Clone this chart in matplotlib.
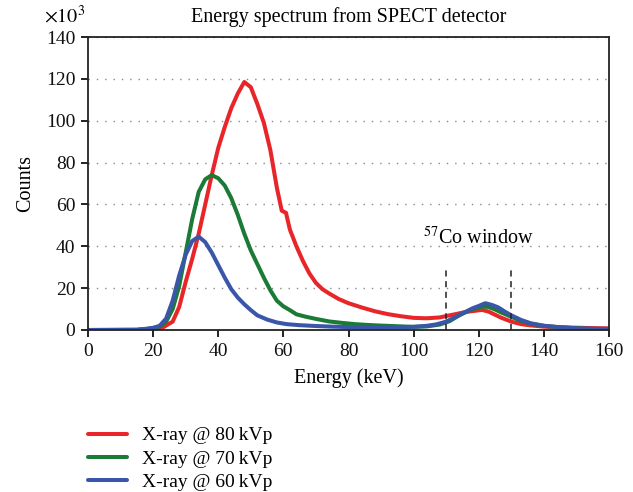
import matplotlib
matplotlib.use("Agg")
import matplotlib.pyplot as plt

plt.rcParams['font.family'] = ['Liberation Serif', 'DejaVu Serif']
plt.rcParams['mathtext.fontset'] = 'stix'

# ---- data (counts in thousands) ----
e_80 = [0, 15, 20, 23, 26, 28, 30, 32, 34, 36, 38, 40, 42, 44, 46, 48, 50, 52, 54, 56,
        58, 59.5, 60.8, 62, 64, 66, 68, 70, 72, 74, 77, 80, 84, 88, 92, 96, 100, 104, 108, 112,
        116, 119, 121, 123, 125, 127, 130, 133, 136, 140, 145, 150, 155, 160]
c_80 = [0, 0, 0.3, 1.2, 4, 11, 23, 34, 46, 60, 74, 87, 97, 106, 113, 118.5, 116, 108, 99, 86,
        68, 57, 56, 48, 40, 33, 27, 22.5, 19.5, 17.5, 14.8, 12.8, 10.8, 9, 7.6, 6.6, 5.8, 5.6, 6, 7.3,
        8.6, 9.2, 9.6, 8.8, 7.3, 5.8, 4, 2.8, 2.2, 1.6, 1.3, 1.1, 0.9, 0.8]

e_70 = [0, 15, 18, 20, 22, 24, 26, 28, 30, 32, 34, 36, 38, 40, 42, 44, 46, 48, 50, 52,
        54, 56, 58, 60, 62, 64, 67, 70, 74, 78, 82, 86, 90, 95, 100, 104, 108, 111, 114, 117,
        119, 121, 123, 125, 127, 130, 133, 136, 140, 145, 150, 155, 160]
c_70 = [0, 0, 0.5, 1, 1.6, 4, 10, 21, 37, 53, 66, 72, 74, 72.5, 69, 63, 55, 46, 38, 31.5,
        25, 19, 14, 11.3, 9.5, 7.5, 6.3, 5.3, 4.1, 3.4, 2.8, 2.4, 2.1, 1.8, 1.5, 1.7, 2.6, 4.2, 7, 9.3,
        10.3, 11.2, 11, 9.8, 8.3, 6.3, 4.3, 3, 2, 1.3, 0.8, 0.5, 0.3]

e_60 = [0, 15, 18, 20, 22, 24, 26, 28, 30, 32, 34, 36, 38, 40, 42, 44, 46, 48, 50, 52,
        55, 58, 61, 65, 70, 75, 80, 85, 90, 95, 100, 104, 107, 110, 113, 116, 118, 120, 122, 124,
        126, 128, 130, 133, 136, 140, 145, 150, 155, 160]
c_60 = [0, 0.2, 0.6, 1, 2, 5.5, 14, 26, 36, 42.5, 44.6, 42, 37, 31, 25, 19.5, 15.5, 12.3, 9.5, 7,
        5, 3.6, 2.8, 2.3, 1.9, 1.6, 1.4, 1.3, 1.2, 1.3, 1.5, 2, 2.7, 4, 6.3, 8.7, 10.3, 11.5, 12.8, 12,
        10.8, 8.8, 7, 4.8, 3.2, 2, 1.3, 0.8, 0.6, 0.5]

labels = ['X-ray @ 80\u2009kVp', 'X-ray @ 70\u2009kVp', 'X-ray @ 60\u2009kVp']
colors = ['#E8262A', '#1B7B36', '#3A56A8']

window = [110, 130]
window_top = 29

x_ticks = list(range(0, 161, 20))
y_ticks = list(range(0, 141, 20))

FS = 14.5

# ---- figure ----
fig = plt.figure(figsize=(6.33, 4.92), dpi=100)
ax = fig.add_axes([88/633, 1-330/492, (609-88)/633, (330-37)/492])

series = [(e_80, c_80), (e_70, c_70), (e_60, c_60)]
lines = []
for (e, c), col, lab in zip(series, colors, labels):
    ln, = ax.plot(e, c, color=col, lw=2.9, label=lab, solid_joinstyle='round',
                  solid_capstyle='round')
    lines.append(ln)

for wx in window:
    ax.plot([wx, wx], [0, window_top], color='#222222', lw=1.1, ls=(0, (4, 3)))
ax.text(120, 38.5, r'$^{57}$Co window', ha='center', va='bottom', fontsize=FS)

ax.set_xlim(0, 160)
ax.set_ylim(0, 140)
ax.set_xticks(x_ticks)
ax.set_yticks(y_ticks)
ax.tick_params(direction='out', length=5, width=1.3, labelsize=14, colors='#111111', pad=4)
ax.yaxis.grid(True, color='#888888', ls=(0, (1, 5)), lw=1.0)
for s in ax.spines.values():
    s.set_linewidth(1.3)
    s.set_color('#222222')

ax.set_xlabel('Energy (keV)', fontsize=FS, labelpad=6)
ax.set_ylabel('Counts', fontsize=FS, labelpad=8)
ax.set_title('Energy spectrum from SPECT detector', fontsize=FS, pad=11)
fig.text(44/633, 1-17/492, r'$\times10^3$', fontsize=FS, ha='left', va='center')

fig.legend(handles=lines, loc='upper left', bbox_to_anchor=(80/633, 1-419/492),
           frameon=False, fontsize=14, handlelength=2.0, handletextpad=0.8,
           labelspacing=0.3, borderaxespad=0)

fig.savefig('out.png', dpi=100)
